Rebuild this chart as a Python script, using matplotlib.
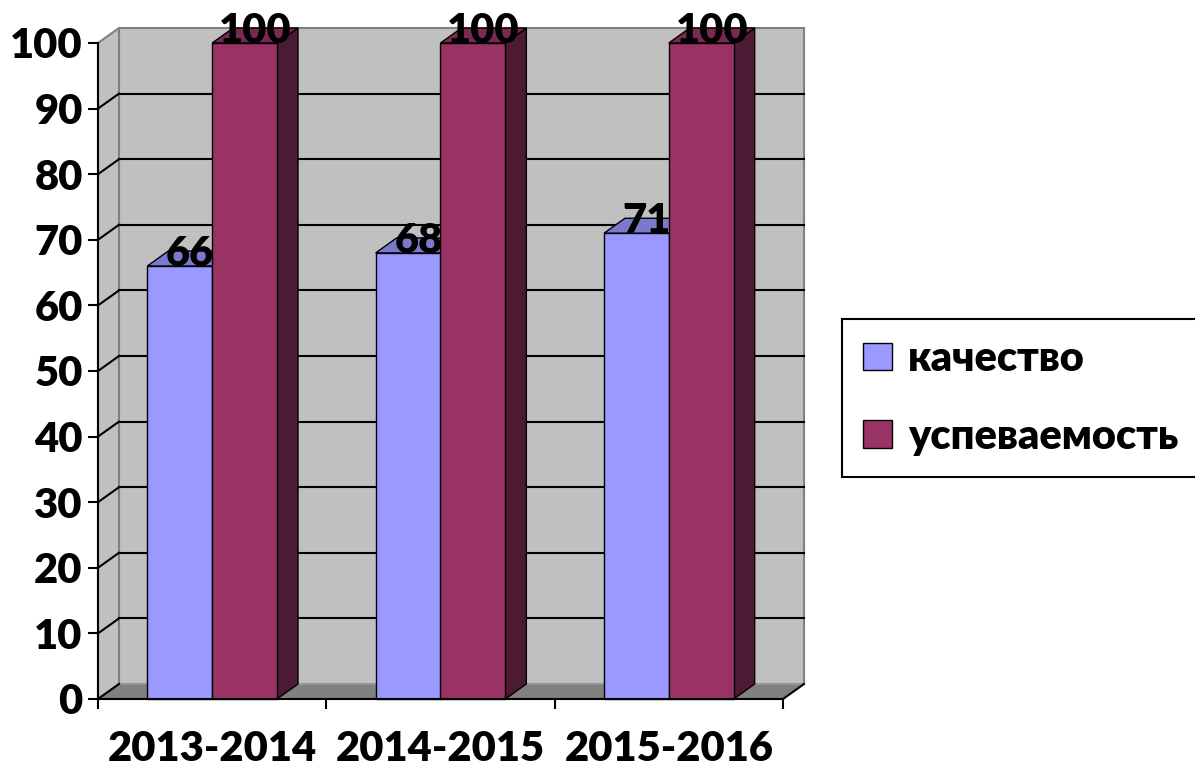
import matplotlib
matplotlib.use('Agg')
import matplotlib.pyplot as plt
from matplotlib.patches import Polygon, Rectangle, Patch

categories = ['2013-2014', '2014-2015', '2015-2016']
series_names = ['качество', 'успеваемость']
kachestvo = [66, 68, 71]
uspevaemost = [100, 100, 100]
y_ticks = [0, 10, 20, 30, 40, 50, 60, 70, 80, 90, 100]

plt.rcParams['font.family'] = ['Lato', 'DejaVu Sans']
WT = 'heavy'
FS = 30
LFS = 30

fig = plt.figure(figsize=(11.95, 7.69), dpi=100)
ax = fig.add_axes([98 / 1195, 70 / 769, 685 / 1195, 656 / 769])
ax.set_xlim(-0.5, 2.5)
ax.set_ylim(0, 100)
ax.patch.set_visible(False)

px_x = 3 / 685
px_y = 100 / 656
DX = 21 * px_x
DY = 15 * px_y
x0, x1 = -0.5, 2.5

# walls
ax.add_patch(Polygon([(x0 + DX, DY), (x1 + DX, DY), (x1 + DX, 100 + DY), (x0 + DX, 100 + DY)],
                     closed=True, fc='#C0C0C0', ec='#808080', lw=1.5, zorder=0, clip_on=False))
ax.add_patch(Polygon([(x0, 0), (x0 + DX, DY), (x0 + DX, 100 + DY), (x0, 100)],
                     closed=True, fc='#C0C0C0', ec='#808080', lw=1.5, zorder=0, clip_on=False))
ax.add_patch(Polygon([(x0, 0), (x1, 0), (x1 + DX, DY), (x0 + DX, DY)],
                     closed=True, fc='#808080', ec='#A0A0A0', lw=1.0, zorder=0.5, clip_on=False))
ax.plot([x1, x1 + DX], [0, DY], color='black', lw=1.5, zorder=0.6, clip_on=False)
ax.plot([x0, x0 + DX], [0, DY], color='black', lw=1.5, zorder=0.6, clip_on=False)

# gridlines
for v in y_ticks[1:-1]:
    ax.plot([x0 + DX, x1 + DX], [v + DY, v + DY], color='black', lw=1.5, zorder=0.4, clip_on=False)
    ax.plot([x0, x0 + DX], [v, v + DY], color='black', lw=1.5, zorder=0.4, clip_on=False)

w = 0.284


def draw_bar(xc, v, front, top, side):
    a, b = xc - w / 2, xc + w / 2
    ax.add_patch(Polygon([(b, 0), (b + DX, DY), (b + DX, v + DY), (b, v)], closed=True,
                         fc=side, ec='black', lw=1.0, zorder=2, clip_on=False))
    ax.add_patch(Polygon([(a, v), (b, v), (b + DX, v + DY), (a + DX, v + DY)], closed=True,
                         fc=top, ec='black', lw=1.0, zorder=2, clip_on=False))
    ax.add_patch(Rectangle((a, 0), w, v, fc=front, ec='black', lw=1.0, zorder=2, clip_on=False))
    ax.text(xc + DX / 2, v, str(v), ha='center', va='baseline', fontsize=FS,
            fontweight=WT, zorder=10, clip_on=False)


for i in range(len(categories)):
    draw_bar(i - w / 2, kachestvo[i], '#9999FF', '#7A7ACC', '#4D4D80')
    draw_bar(i + w / 2, uspevaemost[i], '#993366', '#7A2952', '#4D1A33')

# axes
for s in ['top', 'right']:
    ax.spines[s].set_visible(False)
for s in ['left', 'bottom']:
    ax.spines[s].set_color('black')
    ax.spines[s].set_linewidth(1.5)
    ax.spines[s].set_zorder(3)

ax.set_yticks(y_ticks)
ax.set_yticklabels([str(t) for t in y_ticks], fontsize=FS, fontweight=WT)
ax.tick_params(axis='y', direction='out', length=7, width=1.5, pad=4)
ax.set_xticks(range(len(categories)))
ax.set_xticklabels(categories, fontsize=FS, fontweight=WT)
ax.set_xticks([-0.5, 0.5, 1.5, 2.5], minor=True)
ax.tick_params(axis='x', which='major', length=0, pad=22)
ax.tick_params(axis='x', which='minor', direction='out', length=7, width=1.5)

handles = [Patch(fc='#9999FF', ec='black', lw=1.0), Patch(fc='#993366', ec='black', lw=1.0)]
leg = fig.legend(handles=handles, labels=series_names, loc='center left',
                 bbox_to_anchor=(842 / 1195, (769 - 481) / 769, (1220 - 842) / 1195, (481 - 315) / 769),
                 mode='expand', frameon=True, fancybox=False, edgecolor='black', framealpha=1,
                 prop={'size': LFS, 'weight': WT}, handlelength=0.7, handleheight=0.64,
                 handletextpad=0.38, labelspacing=0.95, borderpad=0.5, borderaxespad=0)
leg.get_frame().set_linewidth(1.5)

fig.savefig('out.png', dpi=100)
